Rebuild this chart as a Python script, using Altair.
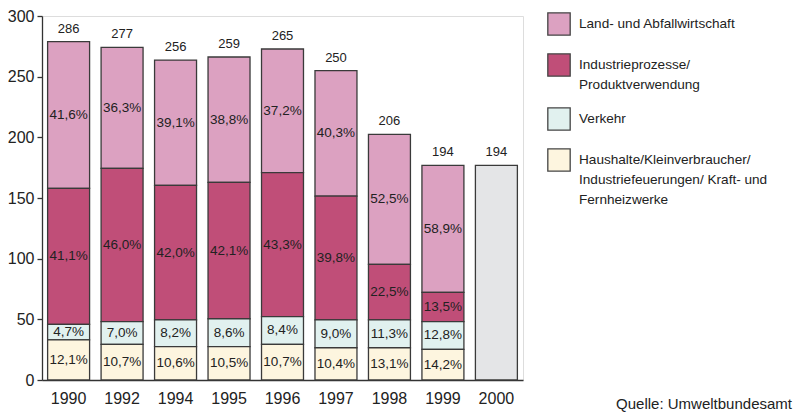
import altair as alt
import pandas as pd

years = ["1990", "1992", "1994", "1995", "1996", "1997", "1998", "1999"]
all_years = years + ["2000"]
categories = [
    "Land- und Abfallwirtschaft",
    "Industrieprozesse/Produktverwendung",
    "Verkehr",
    "Haushalte/Kleinverbraucher/Industriefeuerungen/Kraft- und Fernheizwerke",
]
land = [120.8, 99.8, 103.3, 103.3, 101.9, 103.3, 107.2, 104.6]
industrie = [112.1, 126.3, 110.9, 112.4, 118.7, 102.1, 45.8, 24.2]
verkehr = [12.9, 18.7, 22.0, 23.0, 22.8, 22.9, 22.9, 22.8]
haushalte = [33.0, 29.4, 27.5, 27.5, 29.4, 26.6, 26.6, 25.3]
pct_land = ["41,6%", "36,3%", "39,1%", "38,8%", "37,2%", "40,3%", "52,5%", "58,9%"]
pct_industrie = ["41,1%", "46,0%", "42,0%", "42,1%", "43,3%", "39,8%", "22,5%", "13,5%"]
pct_verkehr = ["4,7%", "7,0%", "8,2%", "8,6%", "8,4%", "9,0%", "11,3%", "12,8%"]
pct_haushalte = ["12,1%", "10,7%", "10,6%", "10,5%", "10,7%", "10,4%", "13,1%", "14,2%"]
value_2000 = 176.9
total_labels = ["286", "277", "256", "259", "265", "250", "206", "194", "194"]
colors = ["#dca1c1", "#c04e78", "#e1f1ef", "#fdf5df"]
color_2000 = "#e4e5e7"
source = "Quelle: Umweltbundesamt"

FONT = "Liberation Sans"

rows = []
series = [(land, pct_land), (industrie, pct_industrie), (verkehr, pct_verkehr), (haushalte, pct_haushalte)]
for ci, (vals, pcts) in enumerate(series):
    for yi, yr in enumerate(years):
        rows.append({"year": yr, "cat": categories[ci], "idx": 3 - ci, "value": vals[yi], "pct": pcts[yi]})
df = pd.DataFrame(rows)

heights = [land[i] + industrie[i] + verkehr[i] + haushalte[i] for i in range(len(years))] + [value_2000]
df_tot = pd.DataFrame({"year": all_years, "height": heights, "label": total_labels})
df_2000 = pd.DataFrame({"year": ["2000"], "value": [value_2000]})
df_src = pd.DataFrame({"t": [source]})

xscale = alt.Scale(domain=all_years, paddingInner=0.215, paddingOuter=0.105)
yscale = alt.Scale(domain=[0, 300])

xaxis = alt.Axis(title=None, ticks=False, labelAngle=0, labelFontSize=16, labelFont=FONT,
                 labelColor="#222", labelPadding=10, domainColor="#333", domainWidth=1.3)
yaxis = alt.Axis(title=None, values=[0, 50, 100, 150, 200, 250, 300], grid=False, tickSize=5,
                 tickColor="#333", tickWidth=1.3, domainColor="#333", domainWidth=1.3,
                 labelFontSize=16, labelFont=FONT, labelColor="#222", labelPadding=3)

label_expr = (
    "datum.label == 'Industrieprozesse/Produktverwendung' ? ['Industrieprozesse/', 'Produktverwendung'] : "
    "datum.label == 'Haushalte/Kleinverbraucher/Industriefeuerungen/Kraft- und Fernheizwerke' ? "
    "['Haushalte/Kleinverbraucher/', 'Industriefeuerungen/ Kraft- und', 'Fernheizwerke'] : datum.label"
)

base = alt.Chart(df).transform_stack(
    stack="value", groupby=["year"], as_=["y0", "y1"], sort=[alt.SortField("idx", order="ascending")]
).transform_calculate(mid="(datum.y0 + datum.y1) / 2")

bars = base.mark_bar(stroke="#3a3a3a", strokeWidth=1.3).encode(
    x=alt.X("year:N", scale=xscale, axis=xaxis),
    y=alt.Y("y0:Q", scale=yscale, axis=yaxis),
    y2="y1:Q",
    fill=alt.Fill("cat:N", scale=alt.Scale(domain=categories, range=colors),
                  legend=alt.Legend(title=None, orient="none", legendX=505, legendY=-4,
                                    symbolType="square", symbolSize=500,
                                    symbolStrokeColor="#444", symbolStrokeWidth=1.3,
                                    labelFont=FONT, labelFontSize=13.6, labelColor="#222",
                                    labelOffset=8, labelLimit=400, rowPadding=13,
                                    labelExpr=label_expr, labelBaseline="middle")),
)

pct_text = base.mark_text(font=FONT, fontSize=13.5, color="#222", baseline="middle").encode(
    x=alt.X("year:N", scale=xscale),
    y=alt.Y("mid:Q", scale=yscale),
    text="pct:N",
)

bar2000 = alt.Chart(df_2000).mark_bar(stroke="#3a3a3a", strokeWidth=1.3, fill=color_2000).encode(
    x=alt.X("year:N", scale=xscale),
    y=alt.Y("value:Q", scale=yscale),
)

tot_text = alt.Chart(df_tot).mark_text(font=FONT, fontSize=13, color="#222", baseline="middle", dy=-13).encode(
    x=alt.X("year:N", scale=xscale),
    y=alt.Y("height:Q", scale=yscale),
    text="label:N",
)

src_text = alt.Chart(df_src).mark_text(font=FONT, fontSize=15, color="#222", align="right", baseline="middle").encode(
    x=alt.value(750), y=alt.value(388), text="t:N"
)

chart = alt.layer(bars, pct_text, bar2000, tot_text, src_text).properties(
    width=481, height=364, autosize=alt.AutoSizeParams(type="none"),
    padding={"left": 34, "top": 8, "right": 271, "bottom": 35},
).configure_view(stroke=None).configure(
    style={"guide-label": {"lineHeight": 20}}
)

chart.save("out.html", embed_options={"renderer": "svg", "actions": False})
